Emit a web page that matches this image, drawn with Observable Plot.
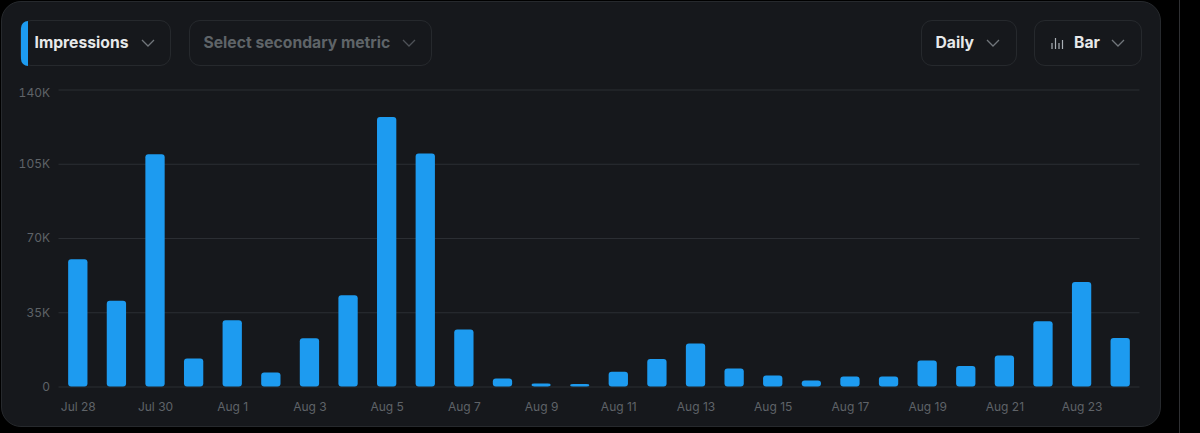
<!DOCTYPE html>
<html><head><meta charset="utf-8">
<script src="https://cdn.jsdelivr.net/npm/d3@7"></script>
<script src="https://cdn.jsdelivr.net/npm/@observablehq/plot@0.6"></script>
<style>
html,body{margin:0;padding:0;background:#000;width:1200px;height:433px;overflow:hidden;font-family:Inter,sans-serif}
#card{position:absolute;left:1px;top:1px;width:1160px;height:426px;background:#16181c;border:1px solid #26292d;box-sizing:border-box;border-radius:20px}
#vline{position:absolute;left:1179px;top:0;width:1px;height:433px;background:#2f3033}
.btn{position:absolute;top:20px;height:46px;box-sizing:border-box;border:1px solid #26292d;border-radius:11px;display:flex;align-items:center;font-size:15.7px;font-weight:700;color:#e7e9ea;white-space:nowrap;padding-bottom:1px}
.btn svg.c{position:absolute;top:17px}
#accent{position:absolute;left:20.5px;top:20.5px;width:7px;height:45px;background:#1d9bf0;border-radius:7px 0 0 7px}
#chart{position:absolute;left:0;top:70px}
#chart svg{display:block;background:transparent}
</style></head><body>
<div id="card"></div><div id="vline"></div>
<div class="btn" style="left:20px;width:151px"><span style="margin-left:13.5px">Impressions</span><svg class="c" style="left:120px" width="14" height="10" viewBox="0 0 14 10"><path d="M1 2l6 6 6-6" fill="none" stroke="#71767b" stroke-width="1.3"/></svg></div>
<div id="accent"></div>
<div class="btn" style="left:189px;width:243px;color:#5f6468"><span style="margin-left:13.5px">Select secondary metric</span><svg class="c" style="left:212px" width="14" height="10" viewBox="0 0 14 10"><path d="M1 2l6 6 6-6" fill="none" stroke="#4e5257" stroke-width="1.3"/></svg></div>
<div class="btn" style="left:921px;width:96px"><span style="margin-left:13.5px">Daily</span><svg class="c" style="left:64px" width="14" height="10" viewBox="0 0 14 10"><path d="M1 2l6 6 6-6" fill="none" stroke="#71767b" stroke-width="1.3"/></svg></div>
<div class="btn" style="left:1034px;width:108px"><svg style="position:absolute;left:16px;top:15px" width="13" height="14" viewBox="0 0 13 14"><path d="M1 7v6M4.5 2v11M8 7v6M11.5 4v9" stroke="#aab0b5" stroke-width="1.2" fill="none"/></svg><span style="margin-left:39px">Bar</span><svg class="c" style="left:76px" width="14" height="10" viewBox="0 0 14 10"><path d="M1 2l6 6 6-6" fill="none" stroke="#71767b" stroke-width="1.3"/></svg></div>
<div id="chart"></div>
<script>
const days = ["Jul 28","Jul 29","Jul 30","Jul 31","Aug 1","Aug 2","Aug 3","Aug 4","Aug 5","Aug 6","Aug 7","Aug 8","Aug 9","Aug 10","Aug 11","Aug 12","Aug 13","Aug 14","Aug 15","Aug 16","Aug 17","Aug 18","Aug 19","Aug 20","Aug 21","Aug 22","Aug 23","Aug 24"];
const impressions = [60000,40400,109500,13200,31200,6600,22700,43000,127000,109800,26900,3800,1400,1200,7000,13000,20300,8500,5200,2800,4700,4700,12300,9700,14600,30700,49300,22900];
const xTicks = ["Jul 28","Jul 30","Aug 1","Aug 3","Aug 5","Aug 7","Aug 9","Aug 11","Aug 13","Aug 15","Aug 17","Aug 19","Aug 21","Aug 23"];
const yTicks = [0,35000,70000,105000];
const yTop = [140000];
const rows = days.map((d,i)=>({day:d,value:impressions[i]}));
const labelColor = "#5f6368";
const fmt = d=>d===0?"0":(d/1000)+"K";
const plot = Plot.plot({
  width:1200,height:363,
  marginLeft:58.5,marginRight:60.5,marginTop:19.5,marginBottom:46.5,
  style:{background:"transparent",fontFamily:"Inter,sans-serif",fontSize:"12px"},
  x:{type:"band",domain:days,paddingInner:0.5,paddingOuter:0.25,align:0.5,round:false,label:null},
  y:{domain:[0,140000],label:null},
  marks:[
    Plot.gridY(yTicks.concat(yTop),{stroke:"#2b2e33",strokeOpacity:1,strokeWidth:1}),
    Plot.barY(rows,{x:"day",y:"value",fill:"#1d9bf0",rx:3}),
    Plot.axisX({ticks:xTicks,tickSize:0,tickPadding:15,color:labelColor,fontSize:12,label:null}),
    Plot.axisY({ticks:yTicks,tickSize:0,tickPadding:9,color:labelColor,fontSize:12,label:null,tickFormat:fmt}),
    Plot.axisY({ticks:yTop,tickSize:0,tickPadding:9,dy:3,color:labelColor,fontSize:12,label:null,tickFormat:fmt})
  ]
});
document.getElementById("chart").appendChild(plot);
</script>
</body></html>
